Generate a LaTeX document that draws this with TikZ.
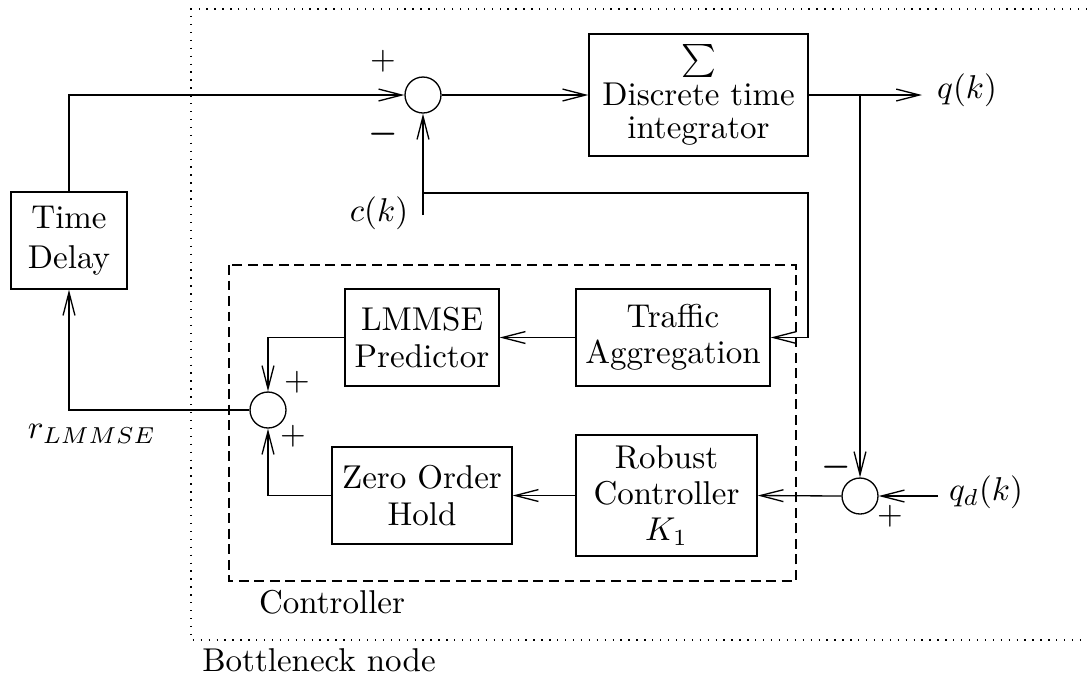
\documentclass[tikz,border=0pt]{standalone}
\usepackage{bm}
\usetikzlibrary{arrows.meta}
\begin{document}
\begin{tikzpicture}[x=0.303pt,y=-0.303pt,
  blk/.style={draw, inner sep=0pt, align=center, font=\fontsize{10}{11}\selectfont},
  sumc/.style={draw, circle, minimum size=10.9pt, inner sep=0pt},
  arr/.style={-{Straight Barb[length=7pt,width=3.6pt]}},
  lbl/.style={inner sep=0pt}]
\useasboundingbox (0,0) rectangle (1087,680);
% frames
\draw[dotted] (1087,9) -- (191,9) -- (191,640) -- (1087,640);
\draw[dash pattern=on 3pt off 1.7pt] (229,265) rectangle (796,581);
\node[lbl] (ctl) at (332,602) {Controller};
\node[lbl] (bn) at (319,660) {Bottleneck node};
% blocks
\node[blk, font=\fontsize{10}{12}\selectfont, minimum width=116*0.303pt, minimum height=97*0.303pt] (td) at (69,240.5) {Time\\Delay};
\node[blk, font=\fontsize{10}{10}\selectfont, minimum width=219*0.303pt, minimum height=122*0.303pt] (int) at (698.5,95) {$\sum$\\[0.8pt]Discrete time\\integrator};
\node[blk, minimum width=154*0.303pt, minimum height=97*0.303pt] (lm) at (422,337.5) {LMMSE\\Predictor};
\node[blk, minimum width=194*0.303pt, minimum height=97*0.303pt] (ta) at (673,337.5) {Traffic\\Aggregation};
\node[blk, minimum width=180*0.303pt, minimum height=97*0.303pt] (zoh) at (422,495.5) {Zero Order\\Hold};
\node[blk, minimum width=181*0.303pt, minimum height=121*0.303pt] (rc) at (666.5,495.5) {Robust\\Controller\\$K_1$};
% summing junctions
\node[sumc] (s1) at (423,95) {};
\node[sumc] (s2) at (268,410) {};
\node[sumc] (s3) at (860,496) {};
% free ends
\coordinate (qout) at (922,95);
\coordinate (br) at (860,95);
\coordinate (ck) at (423,215);
\coordinate (fb) at (423,193);
\coordinate (fbc) at (808,193);
\coordinate (qd) at (938,496);
% connectors
\draw[arr] (td.north) |- (s1.west);
\draw[arr] (s1.east) -- (int.west);
\draw[arr] (int.east) -- (qout);
\draw[arr] (br) -- (s3.north);
\draw[arr] (ck) -- (s1.south);
\draw[arr] (fb) -- (fbc) |- (ta.east);
\draw[arr] (ta.west) -- (lm.east);
\draw[arr] (lm.west) -| (s2.north);
\draw[arr] (s2.west) -| (td.south);
\draw[arr] (zoh.west) -| (s2.south);
\draw[arr] (rc.west) -- (zoh.east);
\draw[arr] (s3.west) -- (rc.east);
\draw[arr] (qd) -- (s3.east);
% labels
\node[lbl] (p1) at (383,61) {$+$};
\node[lbl] (m1) at (383,134) {$\bm{-}$};
\node[lbl] (p2) at (297,382) {$+$};
\node[lbl] (p3) at (293,436) {$+$};
\node[lbl] (m3) at (836,467) {$\bm{-}$};
\node[lbl] (p4) at (890,516) {$+$};
\node[lbl] (lq) at (967,90) {$q(k)$};
\node[lbl] (lc) at (379,213) {$c(k)$};
\node[lbl] (lr) at (92,434) {$r_{LMMSE}$};
\node[lbl] (lqd) at (986,492) {$q_d(k)$};
\end{tikzpicture}
\end{document}
